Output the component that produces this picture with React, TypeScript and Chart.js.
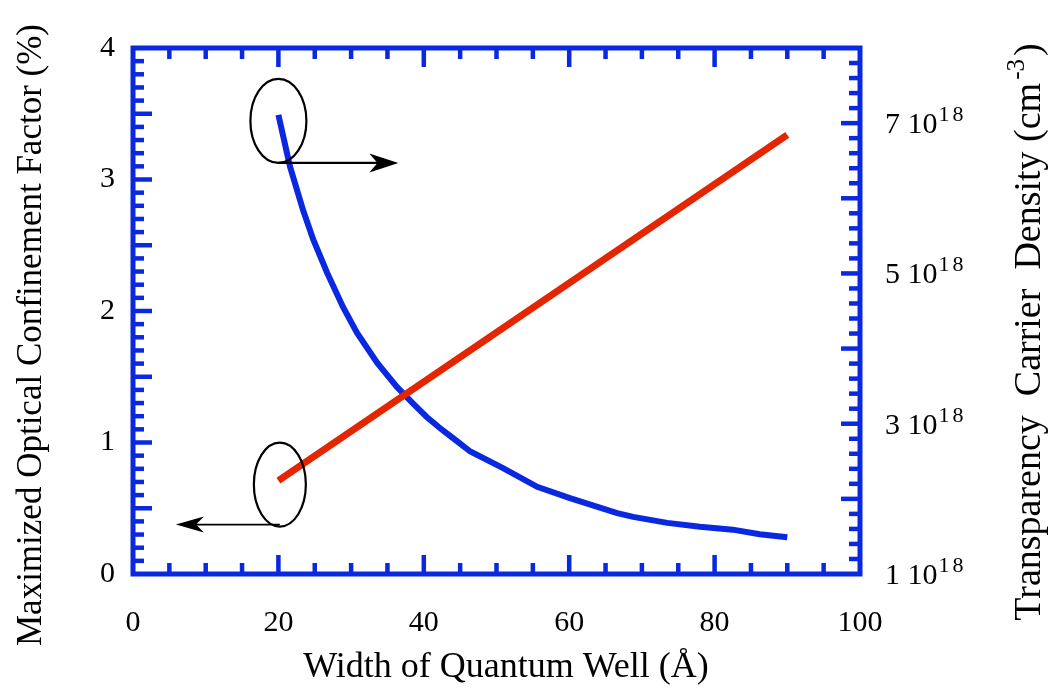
import React, { useEffect, useRef } from "react";
import { Chart, registerables } from "chart.js";

Chart.register(...registerables);

// ---- data ----
const confinementWidths = [20, 90];
const confinementValues = [0.71, 3.34]; // %
const densityWidths = [20, 21.6, 23.4, 24.8, 26.7, 28.9, 30.8, 33.6, 36.3, 38.5, 40.4, 42.5, 44.0, 46.4, 50.9, 55.6, 60.1, 66.6, 68.8, 73.5, 78.0, 82.5, 86.2, 90.0];
const densityValues = [7.11, 6.42, 5.84, 5.45, 5.01, 4.55, 4.21, 3.81, 3.49, 3.27, 3.09, 2.92, 2.81, 2.63, 2.41, 2.16, 2.01, 1.81, 1.76, 1.68, 1.63, 1.59, 1.53, 1.49]; // x 1e18 cm^-3
const rightTickMantissas = [1, 3, 5, 7];
const rightTickExponent = "18";

const xTitle = "Width of Quantum Well (Å)";
const leftTitle = "Maximized Optical Confinement Factor (%)";
const rightTitleMain = "Transparency  Carrier  Density (cm";
const rightTitleSup = "-3";
const rightTitleEnd = ")";

const BLUE = "rgb(10,40,224)";
const RED = "rgb(228,38,0)";
const FONT = "'Liberation Serif', 'Times New Roman', serif";

function drawArrow(ctx: CanvasRenderingContext2D, x0: number, y: number, x1: number, headLen: number, headHalf: number, lw: number) {
  const dir = x1 > x0 ? 1 : -1;
  ctx.save();
  ctx.strokeStyle = "#000";
  ctx.fillStyle = "#000";
  ctx.lineWidth = lw;
  ctx.beginPath();
  ctx.moveTo(x0, y);
  ctx.lineTo(x1 - dir * headLen * 0.6, y);
  ctx.stroke();
  ctx.beginPath();
  ctx.moveTo(x1, y);
  ctx.lineTo(x1 - dir * headLen, y - headHalf);
  ctx.lineTo(x1 - dir * headLen * 0.72, y);
  ctx.lineTo(x1 - dir * headLen, y + headHalf);
  ctx.closePath();
  ctx.fill();
  ctx.restore();
}

const framePlugin = {
  id: "framePlugin",
  afterDatasetsDraw(chart: any) {
    const ctx: CanvasRenderingContext2D = chart.ctx;
    const { left, right, top, bottom } = chart.chartArea;
    const xs = chart.scales.x;
    const ys = chart.scales.y;
    const y1 = chart.scales.y1;
    ctx.save();
    // ticks
    ctx.strokeStyle = BLUE;
    ctx.lineWidth = 4.5;
    ctx.lineCap = "butt";
    const MINOR = 11, MAJOR = 19;
    for (let i = 1; i < 20; i++) {
      const v = i * 5;
      const px = xs.getPixelForValue(v);
      const L = v % 20 === 0 ? MAJOR : MINOR;
      ctx.beginPath();
      ctx.moveTo(px, bottom); ctx.lineTo(px, bottom - L);
      ctx.moveTo(px, top); ctx.lineTo(px, top + L);
      ctx.stroke();
    }
    for (let i = 1; i < 40; i++) {
      const py = ys.getPixelForValue(i / 10);
      const L = i % 5 === 0 ? MAJOR : MINOR;
      ctx.beginPath();
      ctx.moveTo(left, py); ctx.lineTo(left + L, py);
      ctx.stroke();
    }
    for (let i = 1; i < 35; i++) {
      const py = y1.getPixelForValue(1 + i * 0.2);
      const L = i % 5 === 0 ? MAJOR : MINOR;
      ctx.beginPath();
      ctx.moveTo(right, py); ctx.lineTo(right - L, py);
      ctx.stroke();
    }
    // frame
    ctx.lineWidth = 5;
    ctx.strokeRect(left, top, right - left, bottom - top);

    // annotations: ellipses + arrows
    ctx.strokeStyle = "#000";
    ctx.lineWidth = 2.2;
    const e1x = xs.getPixelForValue(20), e1y = y1.getPixelForValue(7.03);
    ctx.beginPath();
    ctx.ellipse(e1x, e1y, 28, 42, 0, 0, Math.PI * 2);
    ctx.stroke();
    drawArrow(ctx, e1x, e1y + 42, xs.getPixelForValue(36.5), 29, 9.5, 2.4);
    const e2x = xs.getPixelForValue(20.2), e2y = ys.getPixelForValue(0.68);
    ctx.strokeStyle = "#000";
    ctx.lineWidth = 2.2;
    ctx.beginPath();
    ctx.ellipse(e2x, e2y, 26, 42, 0, 0, Math.PI * 2);
    ctx.stroke();
    drawArrow(ctx, e2x, e2y + 40, xs.getPixelForValue(5.9), 28, 8, 1.6);

    // right tick labels with superscript
    ctx.fillStyle = "#000";
    ctx.textAlign = "left";
    ctx.textBaseline = "alphabetic";
    for (const m of rightTickMantissas) {
      const py = y1.getPixelForValue(m);
      ctx.font = `30px ${FONT}`;
      const base = py + 10;
      const t = `${m} 10`;
      ctx.fillText(t, 885, base);
      const w = ctx.measureText(t).width;
      ctx.font = `22px ${FONT}`;
      ctx.fillText(rightTickExponent[0], 885 + w + 1, base - 12);
      const w1 = ctx.measureText(rightTickExponent[0]).width;
      ctx.fillText(rightTickExponent.slice(1), 885 + w + 1 + w1 + 3, base - 12);
    }

    // titles
    ctx.font = `36px ${FONT}`;
    ctx.textAlign = "center";
    ctx.textBaseline = "middle";
    ctx.fillText(xTitle, 506, 668);

    ctx.save();
    ctx.translate(32, 335);
    ctx.rotate(-Math.PI / 2);
    ctx.font = `35px ${FONT}`;
    ctx.fillText(leftTitle, 0, 0);
    ctx.restore();

    ctx.save();
    ctx.translate(1030, 332);
    ctx.rotate(-Math.PI / 2);
    ctx.textAlign = "left";
    ctx.textBaseline = "middle";
    ctx.font = `38px ${FONT}`;
    const wMain = ctx.measureText(rightTitleMain).width;
    ctx.font = `25px ${FONT}`;
    const wSup = ctx.measureText(rightTitleSup).width + 6;
    ctx.font = `38px ${FONT}`;
    const wEnd = ctx.measureText(rightTitleEnd).width;
    const total = wMain + wSup + wEnd;
    let sx = -total / 2;
    ctx.fillText(rightTitleMain, sx, 0);
    sx += wMain;
    ctx.font = `25px ${FONT}`;
    ctx.fillText(rightTitleSup, sx + 3, -13);
    sx += wSup;
    ctx.font = `38px ${FONT}`;
    ctx.fillText(rightTitleEnd, sx, 0);
    ctx.restore();

    ctx.restore();
  },
};

export default function App() {
  const ref = useRef<HTMLCanvasElement | null>(null);
  useEffect(() => {
    if (!ref.current) return;
    const tickFont = { family: FONT, size: 30 };
    const chart = new Chart(ref.current, {
      type: "line",
      data: {
        datasets: [
          {
            label: "Confinement",
            data: confinementWidths.map((w, i) => ({ x: w, y: confinementValues[i] })),
            yAxisID: "y",
            borderColor: RED,
            borderWidth: 7,
            pointRadius: 0,
            tension: 0,
          },
          {
            label: "Density",
            data: densityWidths.map((w, i) => ({ x: w, y: densityValues[i] })),
            yAxisID: "y1",
            borderColor: BLUE,
            borderWidth: 6,
            pointRadius: 0,
            tension: 0,
          },
        ],
      },
      options: {
        responsive: false,
        animation: false,
        layout: { padding: { top: 48, left: 0, right: 0, bottom: 0 } },
        plugins: { legend: { display: false }, tooltip: { enabled: false } },
        scales: {
          x: {
            type: "linear",
            position: "bottom",
            min: 0,
            max: 100,
            grid: { display: false, drawTicks: false },
            border: { display: false },
            ticks: { stepSize: 20, font: tickFont, color: "#000", padding: 31, maxRotation: 0, autoSkip: false },
            afterFit: (s: any) => { s.height = 120; },
          },
          y: {
            type: "linear",
            position: "left",
            min: 0,
            max: 4,
            grid: { display: false, drawTicks: false },
            border: { display: false },
            ticks: { stepSize: 1, font: tickFont, color: "#000", padding: 18 },
            afterFit: (s: any) => { s.width = 133; },
          },
          y1: {
            type: "linear",
            position: "right",
            min: 1,
            max: 8,
            grid: { display: false, drawTicks: false },
            border: { display: false },
            ticks: { display: false },
            afterFit: (s: any) => { s.width = 192; },
          },
        },
      },
      plugins: [framePlugin],
    } as any);
    return () => chart.destroy();
  }, []);
  return (
    <div style={{ position: "absolute", left: 0, top: 0, width: 1052, height: 694, background: "#fff" }}>
      <canvas ref={ref} width={1052} height={694} style={{ display: "block" }} />
    </div>
  );
}
